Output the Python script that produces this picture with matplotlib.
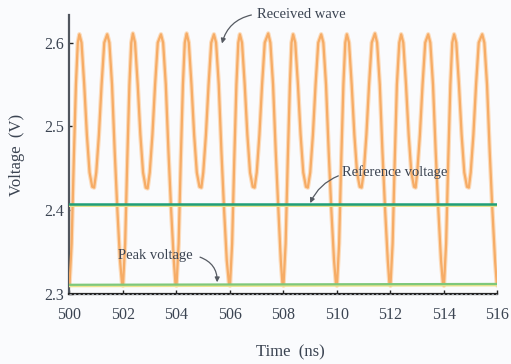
import matplotlib
matplotlib.use("Agg")
import matplotlib.pyplot as plt

# ---- data ----
wave_t = [
    500.00, 500.08, 500.16, 500.24, 500.31, 500.37, 500.45, 500.55, 500.65, 500.75, 500.85, 500.92,
    501.00, 501.10, 501.20, 501.30, 501.41, 501.49, 501.59, 501.69, 501.79, 501.89, 501.96,
    502.00, 502.08, 502.16, 502.24, 502.31, 502.37, 502.45, 502.55, 502.65, 502.75, 502.85, 502.92,
    503.00, 503.10, 503.20, 503.30, 503.42, 503.50, 503.60, 503.70, 503.80, 503.90, 503.96,
    504.00, 504.08, 504.16, 504.24, 504.31, 504.38, 504.46, 504.56, 504.66, 504.76, 504.86, 504.93,
    505.00, 505.10, 505.20, 505.30, 505.40, 505.48, 505.58, 505.68, 505.78, 505.88, 505.96,
    506.00, 506.08, 506.16, 506.24, 506.31, 506.37, 506.45, 506.55, 506.65, 506.75, 506.85, 506.92,
    507.00, 507.10, 507.20, 507.30, 507.43, 507.51, 507.61, 507.71, 507.81, 507.90, 507.96,
    508.00, 508.08, 508.16, 508.24, 508.30, 508.36, 508.44, 508.54, 508.64, 508.74, 508.84, 508.91,
    509.00, 509.10, 509.20, 509.30, 509.41, 509.49, 509.59, 509.69, 509.79, 509.89, 509.96,
    510.00, 510.08, 510.16, 510.24, 510.31, 510.37, 510.45, 510.55, 510.65, 510.75, 510.85, 510.92,
    511.00, 511.10, 511.20, 511.30, 511.42, 511.50, 511.60, 511.70, 511.80, 511.90, 511.96,
    512.00, 512.08, 512.16, 512.24, 512.33, 512.40, 512.48, 512.58, 512.68, 512.78, 512.88, 512.94,
    513.00, 513.10, 513.20, 513.30, 513.41, 513.49, 513.59, 513.69, 513.79, 513.89, 513.96,
    514.00, 514.08, 514.16, 514.24, 514.31, 514.38, 514.46, 514.56, 514.66, 514.76, 514.86, 514.93,
    515.00, 515.10, 515.20, 515.30, 515.43, 515.51, 515.61, 515.71, 515.81, 515.91, 515.97,
    516.00,
]
wave_v = [
    2.311, 2.360, 2.460, 2.550, 2.600, 2.610, 2.600, 2.550, 2.490, 2.445, 2.428, 2.427,
    2.445, 2.490, 2.550, 2.600, 2.610, 2.600, 2.550, 2.470, 2.400, 2.340, 2.314,
    2.310, 2.360, 2.460, 2.550, 2.600, 2.611, 2.600, 2.550, 2.490, 2.445, 2.427, 2.426,
    2.445, 2.490, 2.550, 2.600, 2.610, 2.600, 2.550, 2.470, 2.400, 2.340, 2.313,
    2.310, 2.360, 2.460, 2.550, 2.600, 2.611, 2.600, 2.550, 2.490, 2.445, 2.428, 2.427,
    2.445, 2.490, 2.550, 2.600, 2.610, 2.600, 2.550, 2.470, 2.400, 2.340, 2.313,
    2.310, 2.360, 2.460, 2.550, 2.600, 2.610, 2.600, 2.550, 2.490, 2.445, 2.428, 2.427,
    2.445, 2.490, 2.550, 2.600, 2.611, 2.600, 2.550, 2.470, 2.400, 2.340, 2.313,
    2.310, 2.360, 2.460, 2.550, 2.600, 2.610, 2.600, 2.550, 2.490, 2.445, 2.428, 2.427,
    2.445, 2.490, 2.550, 2.600, 2.610, 2.600, 2.550, 2.470, 2.400, 2.340, 2.313,
    2.310, 2.360, 2.460, 2.550, 2.600, 2.610, 2.600, 2.550, 2.490, 2.445, 2.428, 2.427,
    2.445, 2.490, 2.550, 2.600, 2.611, 2.600, 2.550, 2.470, 2.400, 2.340, 2.313,
    2.310, 2.360, 2.460, 2.550, 2.600, 2.610, 2.600, 2.550, 2.490, 2.445, 2.428, 2.427,
    2.445, 2.490, 2.550, 2.600, 2.610, 2.600, 2.550, 2.470, 2.400, 2.340, 2.313,
    2.310, 2.360, 2.460, 2.550, 2.600, 2.610, 2.600, 2.550, 2.490, 2.445, 2.428, 2.427,
    2.445, 2.490, 2.550, 2.600, 2.610, 2.600, 2.550, 2.470, 2.400, 2.340, 2.314,
    2.311,
]
level_t = [500.0, 516.0]
reference_v = [2.407, 2.407]
peak_v = [2.311, 2.312]

x_ticks = [500, 502, 504, 506, 508, 510, 512, 514, 516]
y_ticks = [2.3, 2.4, 2.5, 2.6]

TXT = "#3b4452"
plt.rcParams["font.family"] = ["Liberation Serif", "DejaVu Serif"]

fig = plt.figure(figsize=(5.11, 3.64), dpi=100, facecolor="#fafbfd")
ax = fig.add_axes([0.136, 0.1923, 0.8375, 0.7665])
ax.set_facecolor("#fafbfd")

# received wave
ax.plot(wave_t, wave_v, color="#fcdcbc", lw=3.2, solid_joinstyle="round", zorder=2)
ax.plot(wave_t, wave_v, color="#f6ac66", lw=1.6, solid_joinstyle="round", zorder=3)

# reference / peak voltage lines
ax.plot(level_t, [v - 0.0018 for v in reference_v], color="#e6e28a", lw=1.4, zorder=4)
ax.plot(level_t, reference_v, color="#1f9f78", lw=1.8, zorder=5)
ax.plot(level_t, [v - 0.0018 for v in peak_v], color="#ece48e", lw=1.4, zorder=4)
ax.plot(level_t, peak_v, color="#7ec87a", lw=1.6, zorder=5)

ax.set_xlim(500, 516)
ax.set_ylim(2.3, 2.633)
ax.set_xticks(x_ticks)
ax.set_xticklabels([str(v) for v in x_ticks])
ax.set_yticks(y_ticks)
ax.set_yticklabels([f"{v:.1f}" for v in y_ticks])

for s in ("top", "right"):
    ax.spines[s].set_visible(False)
ax.spines["left"].set_color("#50565e")
ax.spines["left"].set_linewidth(1.6)
ax.spines["bottom"].set_color("#222222")
ax.spines["bottom"].set_linewidth(1.6)
ax.plot([500, 516], [2.3, 2.3], color="#9aa0a8", lw=0.8, ls=(0, (2, 2)),
        clip_on=False, zorder=6)

ax.tick_params(axis="both", direction="in", length=3, width=1, color="#222222",
               labelsize=11.5, labelcolor=TXT)
ax.tick_params(axis="x", pad=9)
ax.tick_params(axis="y", pad=4)

ax.set_ylabel("Voltage  (V)", fontsize=12, color=TXT)
ax.set_xlabel("Time  (ns)", fontsize=12, color=TXT)
ax.yaxis.set_label_coords(-0.104, 0.5)
ax.xaxis.set_label_coords(0.516, -0.18)

# annotations
ax.text(507.02, 2.634, "Received wave", fontsize=10.5, color=TXT, ha="left", va="center",
        clip_on=False)
ax.annotate("", xy=(505.70, 2.599), xytext=(506.80, 2.633), annotation_clip=False,
            arrowprops=dict(arrowstyle="-|>", color="#555a62", lw=0.9,
                            mutation_scale=7, shrinkA=0, shrinkB=0,
                            connectionstyle="arc3,rad=0.3"))

ax.text(510.2, 2.4455, "Reference voltage", fontsize=10.5, color=TXT, ha="left", va="center")
ax.annotate("", xy=(509.0, 2.4085), xytext=(510.05, 2.441),
            arrowprops=dict(arrowstyle="-|>", color="#555a62", lw=0.9,
                            mutation_scale=7, shrinkA=0, shrinkB=0,
                            connectionstyle="arc3,rad=0.2"))

ax.text(501.82, 2.346, "Peak voltage", fontsize=10.5, color=TXT, ha="left", va="center")
ax.annotate("", xy=(505.52, 2.314), xytext=(504.88, 2.344),
            arrowprops=dict(arrowstyle="-|>", color="#555a62", lw=0.9,
                            mutation_scale=7, shrinkA=0, shrinkB=0,
                            connectionstyle="arc3,rad=-0.35"))

fig.savefig("out.png", dpi=100, facecolor=fig.get_facecolor())
